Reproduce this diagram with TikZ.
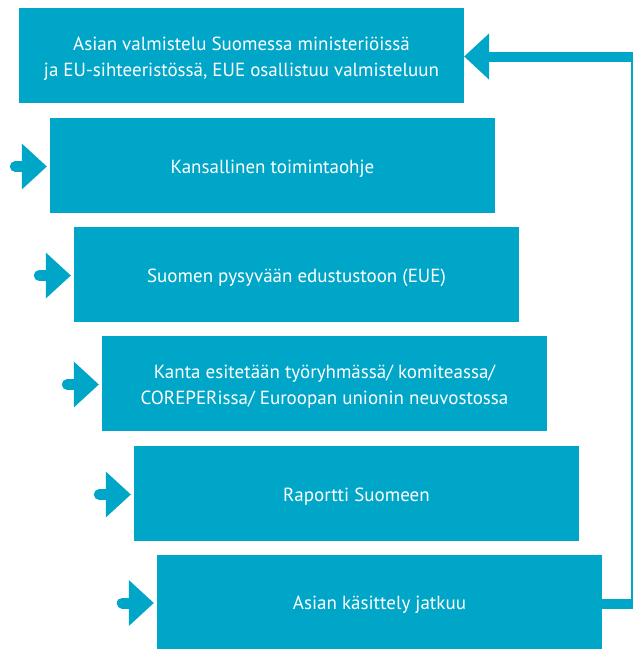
\documentclass[tikz,border=0pt]{standalone}
\usepackage{fontspec}
\setmainfont{PT Sans}
\usetikzlibrary{calc}
\definecolor{eublue}{HTML}{00A6C8}
\tikzset{
  box/.style={fill=eublue, draw=none, minimum width=445pt, minimum height=95pt, inner sep=0pt},
  txt/.style={align=center, text=white, inner sep=0pt, font=\fontsize{19}{25.5}\selectfont},
  stem/.style={draw=eublue, line width=11pt, line cap=round},
  thickline/.style={draw=eublue, line width=10pt},
  thinline/.style={draw=eublue, line width=1.5pt},
  headfill/.style={fill=eublue, draw=none}
}
\begin{document}
\begin{tikzpicture}[x=1pt,y=-1pt]
\useasboundingbox (0,0) rectangle (633,649);
\node[box] (b1) at (241.5,55.5) {};
\node[box] (b2) at (272.5,165.5) {};
\node[box] (b3) at (296.5,274.5) {};
\node[box] (b4) at (324.5,383.5) {};
\node[box] (b5) at (356.5,493.5) {};
\node[box] (b6) at (379.5,602) {};
\node[txt] (t1) at ([yshift=-3pt]b1.center) {Asian valmistelu Suomessa ministeriöissä\\ja EU-sihteeristössä, EUE osallistuu valmisteluun};
\node[txt] (t2) at ([yshift=-3pt]b2.center) {Kansallinen toimintaohje};
\node[txt] (t3) at ([yshift=-3pt]b3.center) {Suomen pysyvään edustustoon (EUE)};
\node[txt] (t4) at ([yshift=-3pt]b4.center) {Kanta esitetään työryhmässä/ komiteassa/\\COREPERissa/ Euroopan unionin neuvostossa};
\node[txt] (t5) at ([yshift=-3pt]b5.center) {Raportti Suomeen};
\node[txt] (t6) at ([yshift=-3pt]b6.center) {Asian käsittely jatkuu};
% small incoming arrows
\foreach \b in {b2,b3,b4,b5,b6}{
  \coordinate (\b s) at ($(\b.west)+(-34.5,1)$);
  \coordinate (\b h) at ($(\b.west)+(-28,1)$);
  \coordinate (\b t) at ($(\b.west)+(-3,1)$);
  \draw[stem] (\b s) -- (\b h);
  \fill[headfill] ($(\b h)+(0,-23)$) -- (\b t) -- ($(\b h)+(0,23)$) -- cycle;
}
% feedback connector
\coordinate (c1) at (632,604);
\coordinate (c2) at (632,56.5);
\coordinate (c3) at (489,56.5);
\draw[thickline] (b6.east |- c1) -- ($(c1)+(1,0)$);
\draw[thinline] (c1) -- (c2);
\draw[thickline] ($(c2)+(1,0)$) -- (c3);
\fill[headfill] ($(c3)+(0,-23)$) -- (b1.east |- c3) -- ($(c3)+(0,23)$) -- cycle;
\end{tikzpicture}
\end{document}
